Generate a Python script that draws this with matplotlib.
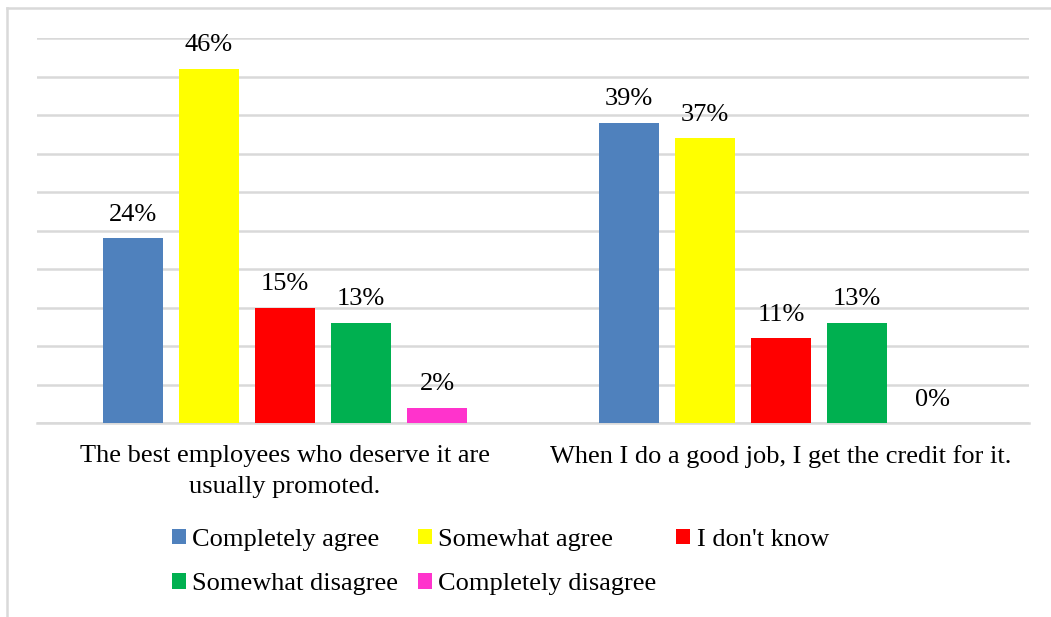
import numpy as np
import matplotlib.pyplot as plt
from matplotlib.lines import Line2D
from matplotlib.patches import Patch

plt.rcParams['font.family'] = ['Liberation Serif', 'DejaVu Serif']

categories = ['The best employees who deserve it are\nusually promoted.',
              'When I do a good job, I get the credit for it.']
series = ['Completely agree', 'Somewhat agree', "I don't know",
          'Somewhat disagree', 'Completely disagree']
values = {
    'Completely agree': [24, 39],
    'Somewhat agree': [46, 37],
    "I don't know": [15, 11],
    'Somewhat disagree': [13, 13],
    'Completely disagree': [2, 0],
}
colors = ['#4F81BD', '#FFFF00', '#FF0000', '#00B050', '#FF33CC']

fig = plt.figure(figsize=(10.51, 6.17), dpi=100)
ax = fig.add_axes([37 / 1051, 194 / 617, 992 / 1051, 385 / 617])

x = np.arange(len(categories))
step = 76 / 496
width = 60 / 496
handles = []
for i, (name, col) in enumerate(zip(series, colors)):
    bars = ax.bar(x + (i - 2) * step, values[name], width, color=col, zorder=3)
    ax.bar_label(bars, labels=[f'{v}%' for v in values[name]], padding=9, fontsize=19)
    handles.append(Patch(facecolor=col, label=name))

ax.set_xlim(-0.5, 1.5)
ax.set_ylim(0, 50)
ax.set_yticks(np.arange(0, 51, 5))
ax.yaxis.grid(True, color='#d9d9d9', linewidth=1.8, zorder=0)
ax.tick_params(axis='y', left=False, labelleft=False)
ax.tick_params(axis='x', bottom=False, labelsize=19, pad=12)
ax.set_xticks(x)
ax.set_xticklabels(categories, linespacing=1.55)
for s in ['top', 'right', 'left']:
    ax.spines[s].set_visible(False)
ax.spines['bottom'].set_color('#d9d9d9')
ax.spines['bottom'].set_linewidth(1.8)

order = [0, 3, 1, 4, 2]
fig.legend([handles[k] for k in order], [series[k] for k in order],
           ncol=3, loc='center left', bbox_to_anchor=(172 / 1051, 1 - 562 / 617),
           frameon=False, fontsize=19, handlelength=0.52, handleheight=0.52,
           handletextpad=0.25, columnspacing=0.75, labelspacing=0.85,
           borderpad=0, borderaxespad=0)

# chart frame (top and left edges visible)
fig.add_artist(Line2D([7 / 1051, 1], [1 - 8 / 617, 1 - 8 / 617], color='#d9d9d9', lw=1.8))
fig.add_artist(Line2D([7 / 1051, 7 / 1051], [0, 1 - 8 / 617], color='#d9d9d9', lw=1.8))

fig.savefig('out.png', dpi=100, facecolor='white')
